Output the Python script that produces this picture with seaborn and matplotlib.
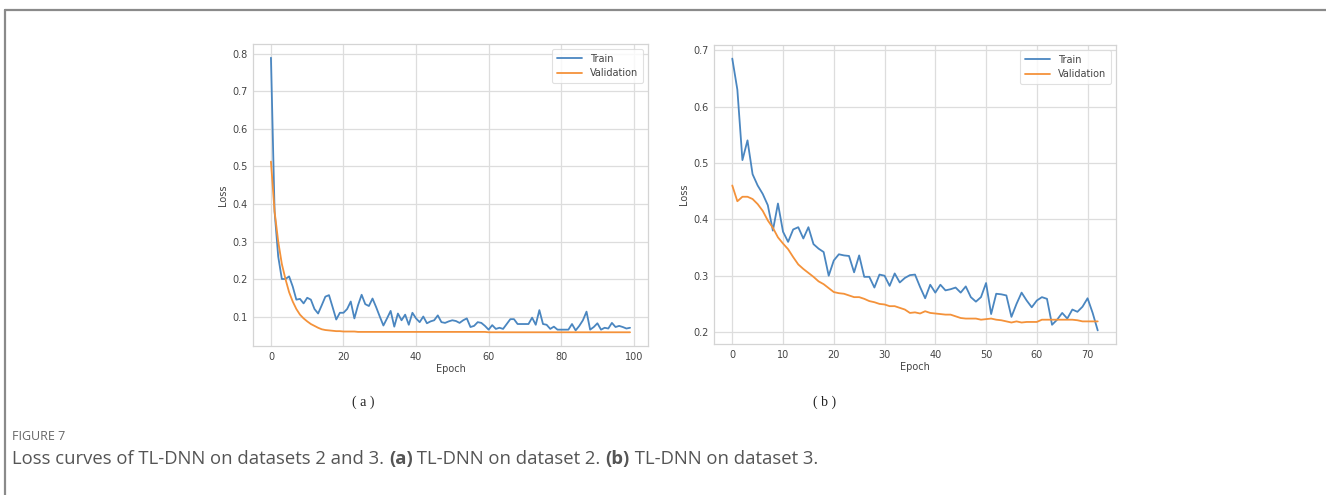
import numpy as np
import pandas as pd
import matplotlib
matplotlib.use("Agg")
import matplotlib.pyplot as plt
from matplotlib.lines import Line2D
import seaborn as sns

# ---------------- data ----------------
train_a = [0.79, 0.38, 0.26, 0.20, 0.20, 0.207, 0.18, 0.145, 0.147, 0.135,
           0.15, 0.145, 0.12, 0.108, 0.13, 0.153, 0.157, 0.125, 0.092, 0.11,
           0.11, 0.12, 0.14, 0.095, 0.13, 0.158, 0.133, 0.128, 0.148, 0.125,
           0.10, 0.076, 0.095, 0.115, 0.073, 0.108, 0.09, 0.105, 0.078, 0.11,
           0.095, 0.085, 0.10, 0.082, 0.087, 0.09, 0.103, 0.085, 0.083, 0.087,
           0.09, 0.088, 0.083, 0.09, 0.095, 0.072, 0.075, 0.085, 0.083, 0.075,
           0.065, 0.077, 0.067, 0.07, 0.067, 0.08, 0.093, 0.093, 0.08, 0.08,
           0.08, 0.08, 0.097, 0.078, 0.117, 0.08, 0.078, 0.067, 0.073, 0.065,
           0.065, 0.065, 0.065, 0.08, 0.063, 0.075, 0.09, 0.113, 0.065, 0.072,
           0.082, 0.065, 0.07, 0.068, 0.083, 0.072, 0.075, 0.072, 0.068, 0.07]
val_a = [0.513, 0.38, 0.30, 0.24, 0.20, 0.165, 0.14, 0.12, 0.105, 0.095,
         0.087, 0.08, 0.075, 0.07, 0.066, 0.064, 0.063, 0.062, 0.061, 0.061,
         0.060, 0.060, 0.060, 0.060, 0.059, 0.059, 0.059, 0.059, 0.059, 0.059,
         0.059, 0.059, 0.059, 0.059, 0.059, 0.059, 0.059, 0.059, 0.059, 0.059,
         0.059, 0.059, 0.059, 0.059, 0.059, 0.059, 0.059, 0.059, 0.059, 0.059,
         0.059, 0.059, 0.059, 0.059, 0.059, 0.059, 0.059, 0.059, 0.059, 0.059,
         0.058, 0.058, 0.058, 0.058, 0.058, 0.058, 0.058, 0.058, 0.058, 0.058,
         0.058, 0.058, 0.058, 0.058, 0.058, 0.058, 0.058, 0.058, 0.058, 0.058,
         0.058, 0.058, 0.058, 0.058, 0.058, 0.058, 0.058, 0.058, 0.058, 0.058,
         0.058, 0.058, 0.058, 0.058, 0.058, 0.058, 0.058, 0.058, 0.058, 0.058]

train_b = [0.685, 0.63, 0.505, 0.54, 0.48, 0.46, 0.445, 0.425, 0.38, 0.428,
           0.378, 0.36, 0.382, 0.386, 0.366, 0.386, 0.356, 0.348, 0.342, 0.30,
           0.327, 0.338, 0.336, 0.335, 0.306, 0.336, 0.298, 0.298, 0.279, 0.302,
           0.30, 0.282, 0.304, 0.288, 0.296, 0.301, 0.302, 0.28, 0.26, 0.284,
           0.27, 0.284, 0.274, 0.276, 0.279, 0.27, 0.281, 0.262, 0.254, 0.262,
           0.287, 0.232, 0.268, 0.267, 0.265, 0.227, 0.25, 0.27, 0.256, 0.244,
           0.256, 0.262, 0.259, 0.213, 0.222, 0.234, 0.224, 0.24, 0.236, 0.245,
           0.26, 0.234, 0.203]
val_b = [0.46, 0.432, 0.44, 0.44, 0.436, 0.427, 0.415, 0.398, 0.385, 0.368,
         0.357, 0.347, 0.333, 0.32, 0.312, 0.305, 0.298, 0.29, 0.285, 0.278,
         0.271, 0.269, 0.268, 0.265, 0.262, 0.262, 0.259, 0.255, 0.253, 0.25,
         0.249, 0.246, 0.246, 0.243, 0.24, 0.234, 0.235, 0.233, 0.237, 0.234,
         0.233, 0.232, 0.231, 0.231, 0.228, 0.225, 0.224, 0.224, 0.224, 0.222,
         0.223, 0.224, 0.222, 0.221, 0.219, 0.217, 0.219, 0.217, 0.218, 0.218,
         0.218, 0.222, 0.222, 0.222, 0.222, 0.222, 0.222, 0.222, 0.221, 0.219,
         0.219, 0.219, 0.219]

series_labels = ["Train", "Validation"]
panel_labels = ["( a )", "( b )"]
caption_head = "FIGURE 7"
caption_parts = [("Loss curves of TL-DNN on datasets 2 and 3. ", "normal"),
                 ("(a)", "bold"), (" TL-DNN on dataset 2. ", "normal"),
                 ("(b)", "bold"), (" TL-DNN on dataset 3.", "normal")]

# ---------------- style ----------------
sns.set_theme(style="whitegrid")
plt.rcParams["font.family"] = ["DejaVu Sans"]
colors = ["#4a86c0", "#f4923a"]

W, H = 1326, 495
fig = plt.figure(figsize=(W / 100, H / 100), dpi=100)
fig.patch.set_facecolor("white")

def px_axes(left, top, right, bottom):
    return fig.add_axes([left / W, 1 - bottom / H, (right - left) / W, (bottom - top) / H])

ax_a = px_axes(253, 44, 648, 346)
ax_b = px_axes(714, 45, 1116, 344)

def draw(ax, train, val):
    df = pd.DataFrame({
        "Epoch": list(range(len(train))) + list(range(len(val))),
        "Loss": list(train) + list(val),
        "Series": [series_labels[0]] * len(train) + [series_labels[1]] * len(val),
    })
    sns.lineplot(data=df, x="Epoch", y="Loss", hue="Series",
                 palette=colors, linewidth=1.3, ax=ax)
    ax.set_xlabel("Epoch", fontsize=7, color="#444444", labelpad=2)
    ax.set_ylabel("Loss", fontsize=7, color="#444444", labelpad=3)
    ax.tick_params(axis="both", labelsize=7, colors="#444444", length=0, pad=4)
    for s in ax.spines.values():
        s.set_color("#d4d4d4")
        s.set_linewidth(0.9)
    ax.grid(True, color="#dddddd", linewidth=0.9)
    leg = ax.legend(loc="upper right", fontsize=7, frameon=True,
                    handlelength=2.6, borderpad=0.5, labelspacing=0.45)
    leg.get_frame().set_edgecolor("#d9d9d9")
    leg.get_frame().set_linewidth(0.8)
    for t in leg.get_texts():
        t.set_color("#444444")

draw(ax_a, train_a, val_a)
ax_a.set_xticks([0, 20, 40, 60, 80, 100])
ax_a.set_yticks([0.1, 0.2, 0.3, 0.4, 0.5, 0.6, 0.7, 0.8])
draw(ax_b, train_b, val_b)
ax_b.set_xticks([0, 10, 20, 30, 40, 50, 60, 70])
ax_b.set_yticks([0.2, 0.3, 0.4, 0.5, 0.6, 0.7])

# panel labels
fig.text(363 / W, 1 - 402 / H, panel_labels[0], ha="center", va="center",
         fontsize=10, family="Liberation Serif", color="#222222")
fig.text(825 / W, 1 - 402 / H, panel_labels[1], ha="center", va="center",
         fontsize=10, family="Liberation Serif", color="#222222")

# frame lines
fig.add_artist(Line2D([4.5 / W, 1.0], [1 - 9.5 / H, 1 - 9.5 / H],
                      color="#8a8a8a", linewidth=1.6, transform=fig.transFigure))
fig.add_artist(Line2D([4.5 / W, 4.5 / W], [1 - 9.5 / H, 0.0],
                      color="#8a8a8a", linewidth=1.6, transform=fig.transFigure))

# caption
fig.text(12 / W, 1 - 436 / H, caption_head, ha="left", va="center",
         fontsize=9, family="Open Sans", color="#666666")
renderer = fig.canvas.get_renderer()
x = 12
for txt, wt in caption_parts:
    t = fig.text(x / W, 1 - 459 / H, txt, ha="left", va="center",
                 fontsize=13.3, family="Open Sans", weight=wt, color="#555555")
    bb = t.get_window_extent(renderer=renderer)
    x += bb.width

fig.savefig("out.png", dpi=100, facecolor="white")
